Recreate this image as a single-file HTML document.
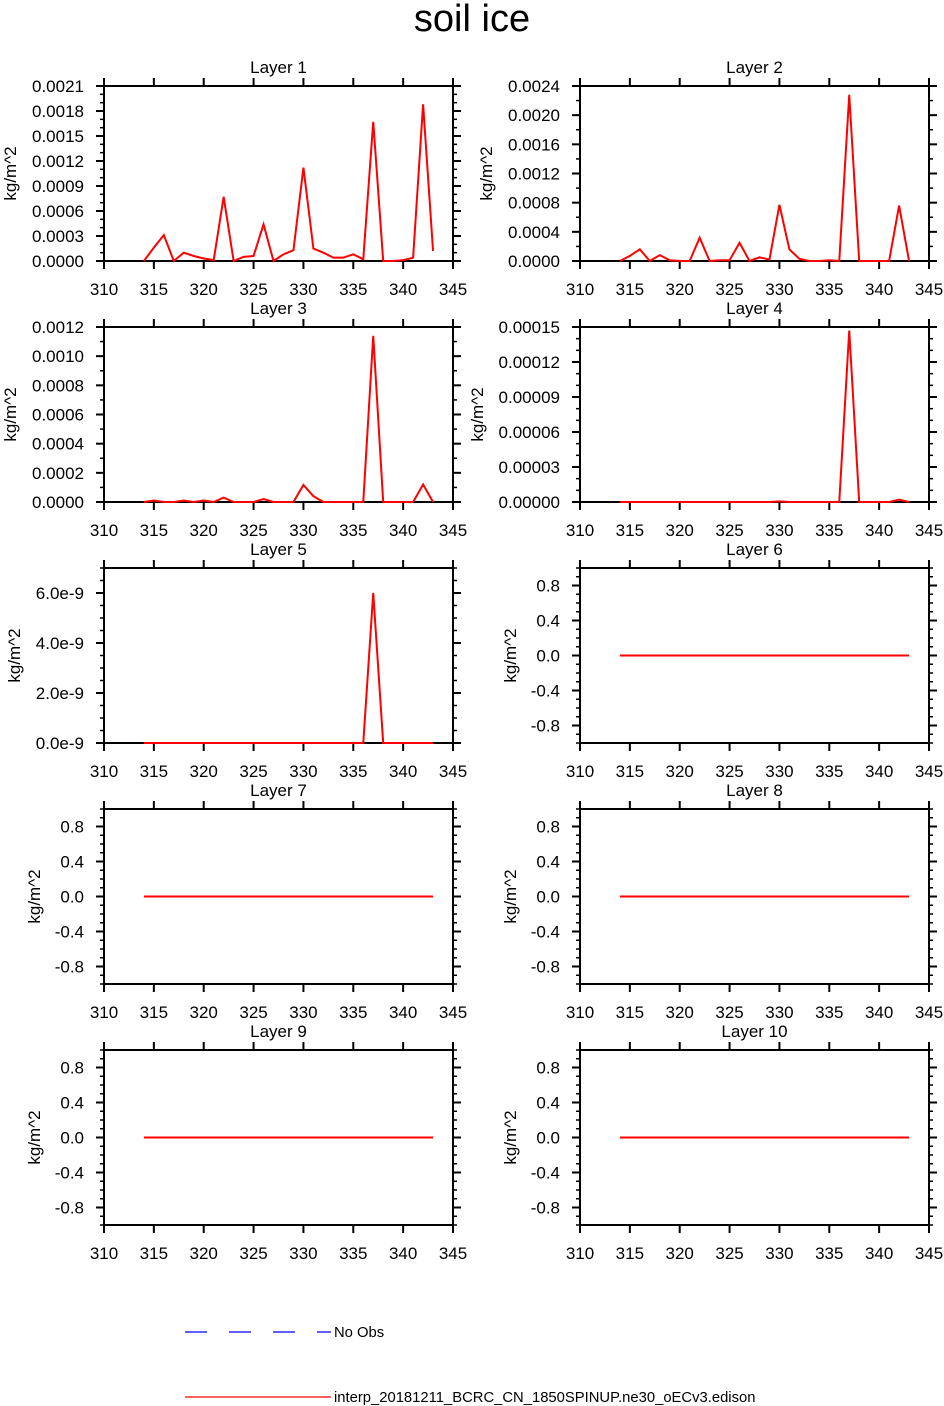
<!DOCTYPE html>
<html><head><meta charset="utf-8"><style>
html,body{margin:0;padding:0;background:#fff;}
svg{display:block;font-family:"Liberation Sans",Arial,sans-serif;}
</style></head><body>
<svg id="chart" width="944" height="1406" viewBox="0 0 944 1406" xmlns="http://www.w3.org/2000/svg">
<text x="472" y="31" font-size="38" text-anchor="middle">soil ice</text>
<g id="panels"></g>
<g>
<line x1="185" y1="1332" x2="331" y2="1332" stroke="#0000ff" stroke-width="1.2" stroke-dasharray="22,22"/>
<text x="334" y="1337" font-size="14.8">No Obs</text>
<line x1="185" y1="1397" x2="331" y2="1397" stroke="#ff0000" stroke-width="1.2"/>
<text x="334" y="1402" font-size="14.8">interp_20181211_BCRC_CN_1850SPINUP.ne30_oECv3.edison</text>
</g>
</svg>
<script>
const years = [];
for (let y = 314; y <= 343; y++) years.push(y);
const xTicks = [310,315,320,325,330,335,340,345];
const layer1 = [0,0.00016,0.00031,0,0.0001,0.00006,0.00003,0.00001,0.00077,0,0.00005,0.00006,0.00044,0,0.00008,0.00013,0.00112,0.00015,0.0001,0.00004,0.00004,0.00008,0.00002,0.00167,0,0,0.00001,0.00004,0.00188,0.00012];
const layer2 = [0,0.00007,0.00016,0,0.00008,0.00001,0,0,0.00032,0,0.00001,0.00001,0.00025,0,0.00005,0.00002,0.00077,0.00016,0.00003,0,0,0.00001,0,0.00228,0,0,0,0,0.00076,0];
const layer3 = [0,0.00001,0,0,0.00001,0,0.00001,0,0.00003,0,0,0,0.00002,0,0,0,0.000117,0.00004,0,0,0,0,0,0.00114,0,0,0,0,0.00012,0];
const layer4 = [0,0,0,0,0,0,0,0,0,0,0,0,0,0,0,0,0.0000005,0,0,0,0,0,0,0.000147,0,0,0,0,0.000002,0];
const layer5 = [0,0,0,0,0,0,0,0,0,0,0,0,0,0,0,0,0,0,0,0,0,0,0,6.0e-9,0,0,0,0,0,0];
const zeros = years.map(() => 0);
const yTicks1 = ["0.0000","0.0003","0.0006","0.0009","0.0012","0.0015","0.0018","0.0021"];
const yTicks2 = ["0.0000","0.0004","0.0008","0.0012","0.0016","0.0020","0.0024"];
const yTicks3 = ["0.0000","0.0002","0.0004","0.0006","0.0008","0.0010","0.0012"];
const yTicks4 = ["0.00000","0.00003","0.00006","0.00009","0.00012","0.00015"];
const yTicks5 = ["0.0e-9","2.0e-9","4.0e-9","6.0e-9"];
const yTicksZ = ["-0.8","-0.4","0.0","0.4","0.8"];

const panels = [
 {title:"Layer 1", data:layer1, ymin:0, ymax:0.0021, ticks:yTicks1, tickVals:[0,0.0003,0.0006,0.0009,0.0012,0.0015,0.0018,0.0021], minor:3, col:0,row:0, tx:8},
 {title:"Layer 2", data:layer2, ymin:0, ymax:0.0024, ticks:yTicks2, tickVals:[0,0.0004,0.0008,0.0012,0.0016,0.0020,0.0024], minor:2, col:1,row:0, tx:484},
 {title:"Layer 3", data:layer3, ymin:0, ymax:0.0012, ticks:yTicks3, tickVals:[0,0.0002,0.0004,0.0006,0.0008,0.0010,0.0012], minor:2, col:0,row:1, tx:8},
 {title:"Layer 4", data:layer4, ymin:0, ymax:0.00015, ticks:yTicks4, tickVals:[0,0.00003,0.00006,0.00009,0.00012,0.00015], minor:3, col:1,row:1, tx:475},
 {title:"Layer 5", data:layer5, ymin:0, ymax:7e-9, ticks:yTicks5, tickVals:[0,2e-9,4e-9,6e-9], minor:4, col:0,row:2, tx:12},
 {title:"Layer 6", data:zeros, ymin:-1, ymax:1, ticks:yTicksZ, tickVals:[-0.8,-0.4,0,0.4,0.8], minor:4, col:1,row:2, tx:508},
 {title:"Layer 7", data:zeros, ymin:-1, ymax:1, ticks:yTicksZ, tickVals:[-0.8,-0.4,0,0.4,0.8], minor:4, col:0,row:3, tx:32},
 {title:"Layer 8", data:zeros, ymin:-1, ymax:1, ticks:yTicksZ, tickVals:[-0.8,-0.4,0,0.4,0.8], minor:4, col:1,row:3, tx:508},
 {title:"Layer 9", data:zeros, ymin:-1, ymax:1, ticks:yTicksZ, tickVals:[-0.8,-0.4,0,0.4,0.8], minor:4, col:0,row:4, tx:32},
 {title:"Layer 10", data:zeros, ymin:-1, ymax:1, ticks:yTicksZ, tickVals:[-0.8,-0.4,0,0.4,0.8], minor:4, col:1,row:4, tx:508}
];
const NS = "http://www.w3.org/2000/svg";
const root = document.getElementById("panels");
function el(tag, attrs, parent){ const e=document.createElementNS(NS,tag); for(const k in attrs) e.setAttribute(k,attrs[k]); parent.appendChild(e); return e; }
const W=349, H=175;
panels.forEach((p, i) => {
  const L = p.col ? 580 : 104, T = 86 + p.row*241;
  const g = el("g", {}, root);
  
  
  const xs = v => L + (v-310)/35*W;
  const ys = v => T + H - (v-p.ymin)/(p.ymax-p.ymin)*H;
  xTicks.forEach(t => {
    const x = xs(t);
    el("line",{x1:x,y1:T+H,x2:x,y2:T+H+8,stroke:"#000","stroke-width":2},g);
    el("line",{x1:x,y1:T,x2:x,y2:T-8,stroke:"#000","stroke-width":2},g);
    const tx = el("text",{x:x,y:T+H+34,"font-size":17,"text-anchor":"middle"},g);
    tx.textContent = t;
    
    
  });
  const step = p.tickVals.length>1 ? p.tickVals[1]-p.tickVals[0] : 1;
  let start = p.tickVals[0];
  while (start - step >= p.ymin - 1e-15) start -= step;
  for (let v = start; v <= p.ymax + step*1e-6; v += step) {
    for (let m=1; m<p.minor; m++) {
      const mv = v + step*m/p.minor;
      if (mv > p.ymax + 1e-15) break;
      const y = ys(mv);
      el("line",{x1:L,y1:y,x2:L-4,y2:y,stroke:"#000","stroke-width":1.5},g);
      el("line",{x1:L+W,y1:y,x2:L+W+4,y2:y,stroke:"#000","stroke-width":1.5},g);
    }
    if (p.ymin < 0 && v - step < p.ymin) {
      for (let m=1; m<p.minor; m++) {
        const mv = v - step*m/p.minor;
        if (mv < p.ymin) break;
        const y = ys(mv);
        el("line",{x1:L,y1:y,x2:L-4,y2:y,stroke:"#000","stroke-width":1.5},g);
        el("line",{x1:L+W,y1:y,x2:L+W+4,y2:y,stroke:"#000","stroke-width":1.5},g);
      }
    }
  }
  p.tickVals.forEach((v, k) => {
    const y = ys(v);
    el("line",{x1:L,y1:y,x2:L-8,y2:y,stroke:"#000","stroke-width":2},g);
    el("line",{x1:L+W,y1:y,x2:L+W+8,y2:y,stroke:"#000","stroke-width":2},g);
    const tx = el("text",{x:L-20,y:y+6,"font-size":17,"text-anchor":"end"},g);
    tx.textContent = p.ticks[k];
    
    
  });
  const fr = el("rect",{x:L,y:T,width:W,height:H,fill:"none",stroke:"#000","stroke-width":2},g);
  
  
  const pts = years.map((yr,k) => xs(yr).toFixed(2)+","+ys(p.data[k]).toFixed(2)).join(" ");
  const line = el("polyline",{points:pts,fill:"none",stroke:"#ff0000","stroke-width":2,"stroke-linejoin":"miter"},g);
  
  
  const tt = el("text",{x:L+W/2,y:T-13,"font-size":17,"text-anchor":"middle"},g);
  tt.textContent = p.title;
  
  
  const yt = el("text",{x:p.tx+8,y:T+H/2,"font-size":17,"text-anchor":"middle",transform:"rotate(-90 "+(p.tx+8)+" "+(T+H/2)+")"},g);
  yt.textContent = "kg/m^2";
  
  
});
</script>
</body></html>
